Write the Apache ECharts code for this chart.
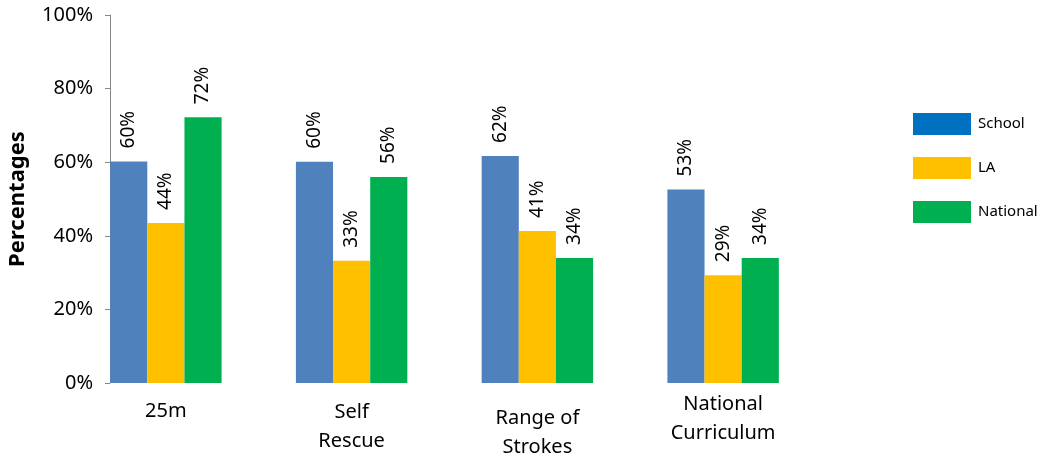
<!DOCTYPE html>
<html>
<head>
<meta charset="utf-8">
<script src="https://cdn.jsdelivr.net/npm/echarts@6/dist/echarts.min.js"></script>
<style>html,body{margin:0;padding:0;background:#fff}#c{width:1041px;height:460px}</style>
</head>
<body>
<div id="c"></div>
<script>
const categories = ['25m', 'Self\nRescue', 'Range of\nStrokes', 'National\nCurriculum'];
const school = [60.2, 60.1, 61.7, 52.6];
const la = [43.5, 33.2, 41.3, 29.3];
const national = [72.2, 56.0, 34.0, 34.0];
const yTicks = [0, 20, 40, 60, 80, 100];

const FONT = 'Noto Sans';
const chart = echarts.init(document.getElementById('c'));
const labelPad = [7, 8, 14, 0];

function mkSeries(name, data, color) {
  return {
    name: name, type: 'bar', data: data, barGap: '0%', barCategoryGap: '40%',
    itemStyle: { color: color },
    label: {
      show: true, position: 'top', rotate: 90, align: 'left', verticalAlign: 'middle',
      distance: 13, fontFamily: FONT, fontSize: 19, color: '#000',
      formatter: p => Math.round(p.value) + '%'
    }
  };
}

chart.setOption({
  animation: false,
  textStyle: { fontFamily: FONT },
  grid: { left: 73, right: 225, top: 15, bottom: 77, outerBoundsMode: 'none', containLabel: false },
  legend: {
    orient: 'vertical', left: 908, top: 108, itemWidth: 58, itemHeight: 22, itemGap: 22,
    icon: 'rect',
    textStyle: { fontFamily: FONT, fontSize: 15, color: '#000', padding: [0, 0, 0, 2] },
    data: [
      { name: 'School', itemStyle: { color: '#0070C0' } },
      { name: 'LA', itemStyle: { color: '#FFC000' } },
      { name: 'National', itemStyle: { color: '#00B050' } }
    ]
  },
  xAxis: {
    type: 'category',
    data: categories.map((c, i) => ({ value: c, textStyle: { padding: [labelPad[i], 0, 0, 0] } })),
    axisLine: { show: false }, axisTick: { show: false },
    axisLabel: { fontFamily: FONT, fontSize: 20, color: '#000', lineHeight: 29, margin: 7, interval: 0 }
  },
  yAxis: {
    type: 'value', min: yTicks[0], max: yTicks[yTicks.length - 1], interval: 20,
    offset: -37,
    name: 'Percentages', nameLocation: 'middle', nameRotate: 90, nameGap: 81,
    nameTextStyle: { fontFamily: FONT, fontSize: 22, fontWeight: 'bold', color: '#000' },
    axisLine: { show: true, lineStyle: { color: '#868686', width: 1 } },
    axisTick: { show: true, length: 5, lineStyle: { color: '#868686' } },
    splitLine: { show: false },
    axisLabel: { fontFamily: FONT, fontSize: 20, color: '#000', margin: 17, formatter: '{value}%' }
  },
  series: [
    mkSeries('School', school, '#4F81BD'),
    mkSeries('LA', la, '#FFC000'),
    mkSeries('National', national, '#00B050')
  ]
});
</script>
</body>
</html>
